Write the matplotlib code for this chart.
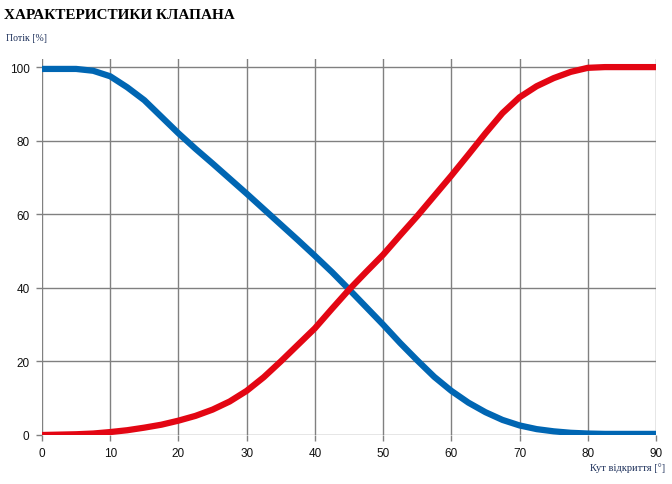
import matplotlib
matplotlib.use("Agg")
import matplotlib.pyplot as plt

# DATA
angle = [0, 2.5, 5, 7.5, 10, 12.5, 15, 17.5, 20, 22.5, 25, 27.5, 30, 32.5, 35, 37.5, 40, 42.5, 45,
         47.5, 50, 52.5, 55, 57.5, 60, 62.5, 65, 67.5, 70, 72.5, 75, 77.5, 80, 82.5, 85, 90]
flow_closing = [99.5, 99.5, 99.5, 99, 97.5, 94.5, 91, 86.5, 82, 77.8, 73.8, 69.7, 65.6, 61.4, 57.2, 53, 48.7, 44.3, 39.6,
                34.8, 30, 25, 20.3, 15.8, 12, 8.8, 6.2, 4.1, 2.6, 1.6, 1, 0.6, 0.4, 0.3, 0.3, 0.3]
flow_opening = [0, 0.1, 0.2, 0.4, 0.8, 1.3, 2, 2.8, 3.9, 5.2, 6.9, 9.1, 12, 15.7, 20, 24.5, 29, 34.3, 39.5,
                44.3, 49, 54.3, 59.5, 65, 70.5, 76.2, 82, 87.5, 91.8, 94.8, 97, 98.7, 99.8, 100, 100, 100]
x_ticks = list(range(0, 91, 10))
y_ticks = list(range(0, 101, 20))

BLUE = '#0066b3'
RED = '#e30613'
GRID = '#808080'

fig = plt.figure(figsize=(6.72, 4.85), dpi=100)
ax = fig.add_axes([42 / 672, 1 - 436 / 485, (656 - 42) / 672, (436 - 60) / 485])

ax.plot(angle, flow_closing, color=BLUE, lw=4.5, solid_capstyle='round', solid_joinstyle='round', zorder=3)
ax.plot(angle, flow_opening, color=RED, lw=4.5, solid_capstyle='round', solid_joinstyle='round', zorder=3)

ax.set_xlim(0, 90)
ax.set_ylim(0, 102.2)
ax.set_xticks(x_ticks)
ax.set_yticks(y_ticks)
for lbl in ax.get_xticklabels() + ax.get_yticklabels():
    lbl.set_fontfamily('Liberation Sans')
ax.tick_params(length=4, width=1, color=GRID, labelsize=8.5, pad=5, labelcolor='#111111')
ax.grid(True, color=GRID, lw=1)
ax.set_axisbelow(True)
for s in ax.spines.values():
    s.set_visible(False)

fig.text(4 / 672, 1 - 19 / 485, 'ХАРАКТЕРИСТИКИ КЛАПАНА', family='Liberation Serif',
         fontweight='bold', fontsize=11, ha='left', va='baseline', color='black')
fig.text(6 / 672, 1 - 41 / 485, 'Потік [%]', family='Liberation Serif', fontsize=7,
         ha='left', va='baseline', color='#1c2f5a')
fig.text(665 / 672, 1 - 471 / 485, 'Кут відкриття [°]', family='Liberation Serif', fontsize=7.5,
         ha='right', va='baseline', color='#1c2f5a')

fig.savefig('out.png', dpi=100)
